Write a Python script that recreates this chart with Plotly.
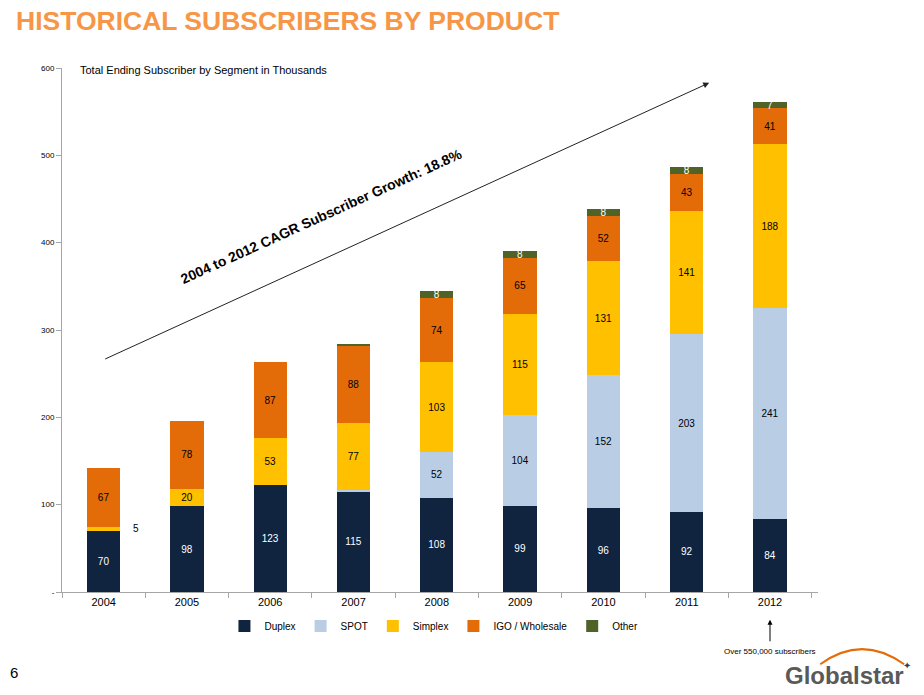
import plotly.graph_objects as go

years = ['2004', '2005', '2006', '2007', '2008', '2009', '2010', '2011', '2012']

duplex = [70, 98, 123, 115, 108, 99, 96, 92, 84]
spot = [0, 0, 0, 2, 52, 104, 152, 203, 241]
simplex = [5, 20, 53, 77, 103, 115, 131, 141, 188]
igo = [67, 78, 87, 88, 74, 65, 52, 43, 41]
other = [0, 0, 0, 2, 8, 8, 8, 8, 7]

y_ticks = [0, 100, 200, 300, 400, 500, 600]
y_tick_labels = ['-', '100', '200', '300', '400', '500', '600']

series = [
    ('Duplex', duplex, '#10233F', 'white'),
    ('SPOT', spot, '#B9CDE5', 'black'),
    ('Simplex', simplex, '#FFC000', 'black'),
    ('IGO / Wholesale', igo, '#E36C09', 'black'),
    ('Other', other, '#4F6228', 'white'),
]


def label_texts(name, values):
    texts = []
    for i, v in enumerate(values):
        # tiny slivers and the 2004 simplex value are not labelled inside
        if v < 5 or (name == 'Simplex' and i == 0):
            texts.append('')
        else:
            texts.append(str(v))
    return texts


fig = go.Figure()
for name, values, color, text_color in series:
    fig.add_trace(
        go.Bar(
            x=years,
            y=values,
            name=name,
            width=0.4,
            marker=dict(color=color, line=dict(width=0)),
            text=label_texts(name, values),
            textposition='inside',
            insidetextanchor='middle',
            textangle=0,
            textfont=dict(color=text_color, size=10, family='Arial'),
            hoverinfo='x+y+name',
        )
    )

# the page body has an 8px margin, so the figure is a bit smaller than the window
fig.update_layout(
    barmode='stack',
    width=908,
    height=679,
    margin=dict(l=54, r=98, t=60, b=95),
    plot_bgcolor='white',
    paper_bgcolor='white',
    font=dict(family='Arial', color='black'),
    uniformtext=dict(minsize=10, mode='show'),
    showlegend=True,
    legend=dict(
        orientation='h',
        traceorder='normal',
        x=0.492, xanchor='center',
        y=-0.065, yanchor='middle',
        font=dict(size=10),
        itemwidth=30,
        tracegroupgap=0,
    ),
)

fig.update_xaxes(
    type='category',
    showline=True,
    linecolor='#A6A6A6',
    linewidth=1,
    ticks='outside',
    tickson='boundaries',
    ticklen=5,
    tickcolor='#A6A6A6',
    tickfont=dict(size=11),
    showgrid=False,
    zeroline=False,
)
fig.update_yaxes(
    range=[0, 600],
    tickvals=y_ticks,
    ticktext=y_tick_labels,
    showline=True,
    linecolor='#A6A6A6',
    linewidth=1,
    ticks='outside',
    ticklen=5,
    tickcolor='#A6A6A6',
    tickfont=dict(size=8),
    showgrid=False,
    zeroline=False,
)

annotations = [
    # page title
    dict(text='<b>HISTORICAL SUBSCRIBERS BY PRODUCT</b>', xref='paper', yref='paper',
         x=-0.063, y=1.089, xanchor='left', yanchor='middle', showarrow=False,
         font=dict(size=26.5, color='#F79646', family='Arial')),
    dict(text='Total Ending Subscriber by Segment in Thousands', xref='paper', yref='paper',
         x=0.021, y=0.996, xanchor='left', yanchor='middle', showarrow=False,
         font=dict(size=11)),
    # CAGR arrow and label
    dict(x=7.27, y=583, ax=0.0, ay=266, xref='x', yref='y', axref='x', ayref='y',
         text='', showarrow=True, arrowhead=2, arrowsize=1.2, arrowwidth=1, arrowcolor='#222222'),
    dict(text='<b>2004 to 2012 CAGR Subscriber Growth: 18.8%</b>', xref='x', yref='y',
         x=2.62, y=430, textangle=-24.4, showarrow=False, font=dict(size=14)),
    # 2004 simplex value shown beside the bar
    dict(text='5', xref='x', yref='y', x=0, y=duplex[0] + simplex[0] / 2, xshift=32,
         showarrow=False, font=dict(size=10)),
    # note under 2012
    dict(x=8, y=-0.053, ax=0, ay=23, xref='x', yref='paper', axref='pixel', ayref='pixel',
         text='', showarrow=True, arrowhead=2, arrowsize=1, arrowwidth=1, arrowcolor='black'),
    dict(text='Over 550,000 subscribers', xref='x', yref='paper', x=8, y=-0.113,
         yanchor='middle', showarrow=False, font=dict(size=8)),
    # page number and logo
    dict(text='6', xref='paper', yref='paper', x=-0.072, y=-0.153, xanchor='left',
         yanchor='middle', showarrow=False, font=dict(size=15)),
    dict(text='<b>Globalstar</b>', xref='paper', yref='paper', x=1.117, y=-0.160,
         xanchor='right', yanchor='middle', showarrow=False,
         font=dict(size=24, color='#595959')),
    dict(text='✦', xref='paper', yref='paper', x=1.126, y=-0.140,
         xanchor='right', yanchor='middle', showarrow=False,
         font=dict(size=10, color='#404040')),
]
fig.update_layout(annotations=annotations)

# orange swoosh of the logo
fig.add_shape(type='path', xref='paper', yref='paper',
              path='M 1.003,-0.138 Q 1.058,-0.080 1.114,-0.138',
              line=dict(color='#E36C09', width=2))

fig.write_html('out.html')
